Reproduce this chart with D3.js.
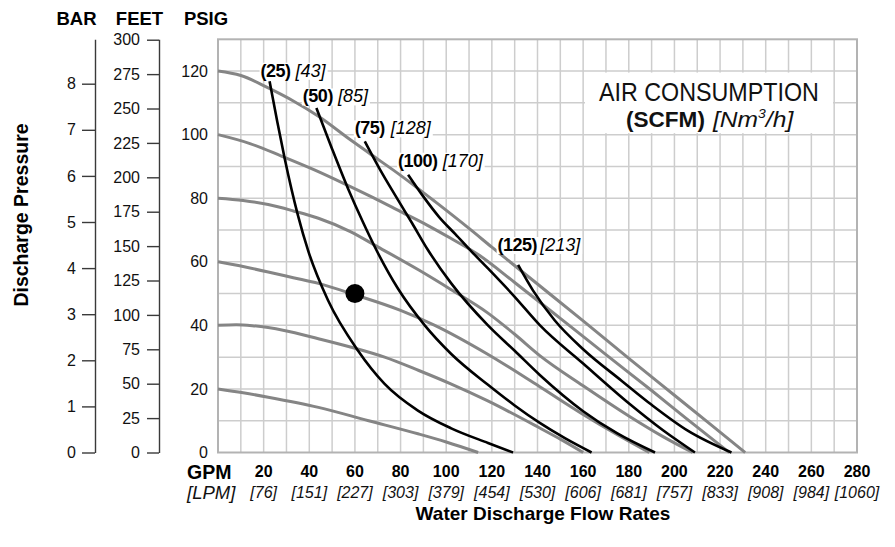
<!DOCTYPE html>
<html><head><meta charset="utf-8">
<script src="https://cdn.jsdelivr.net/npm/d3@7"></script>
<style>
html,body{margin:0;padding:0;background:#fff;}
svg{display:block;font-family:"Liberation Sans",Arial,Helvetica,sans-serif;}
</style></head><body>
<svg id="chart" width="895" height="547"></svg>
<script>
// ---------- data ----------
const gpmTicks = [20,40,60,80,100,120,140,160,180,200,220,240,260,280];
const lpmLabels = ["[76]","[151]","[227]","[303]","[379]","[454]","[530]","[606]","[681]","[757]","[833]","[908]","[984]","[1060]"];
const psiTicks = [0,20,40,60,80,100,120];
const barTicks = [0,1,2,3,4,5,6,7,8];
const feetTicks = [0,25,50,75,100,125,150,175,200,225,250,275,300];

// constant air-inlet pressure curves: [GPM, PSIG]
const pressure120 = [[0,120],[10,118.6],[22,114.7],[33,110.6],[44,105.8],[58,98.4],[66,94.3],[80,87.2],[95,79],[110,70.5],[120,64.6],[140,53],[160,41.4],[180,29.6],[200,18],[215,9.3],[231,0]];
const pressure100 = [[0,100],[14,97.2],[28,93.2],[42,89],[55,84.7],[68,80.2],[80,75.8],[92,71.4],[102,67.4],[114,62.3],[130,53.5],[150,42.2],[170,30.8],[190,19.5],[205,10.8],[224,0]];
const pressure80 = [[0,80],[11,79.3],[22,78],[33,76],[44,73.7],[58,69.5],[70,64.7],[88,57.4],[102,51.3],[118,44],[130,37.2],[141,30.5],[160,21],[180,11.5],[195,5],[208,0]];
const pressure60 = [[0,60],[11,58.5],[22,56.8],[33,55],[44,53.2],[60,49.6],[80,44.7],[95,40],[118,31],[141,20.7],[160,12],[175,5.6],[189,0]];
const pressure40 = [[0,40],[8,40.2],[15,39.9],[29,38.4],[44,35.8],[58,33.2],[73,30],[88,25.8],[102,21.6],[118,16.3],[141,7.7],[150,4.2],[160,0]];
const pressure20 = [[0,20],[11,18.8],[22,17.4],[44,14.2],[66,10],[88,5.8],[100,3.3],[114,0]];
const pressureCurves = [pressure120, pressure100, pressure80, pressure60, pressure40, pressure20];

// air consumption curves: [GPM, PSIG]
const air25 = [[22.6,116.8],[26,104],[29.2,92.6],[35,74.7],[39.5,63.5],[48.2,47.9],[61.3,32.1],[73,21.6],[87.6,13.2],[102.2,7.6],[118.3,3],[129.3,0]];
const air50 = [[43.1,108.4],[50,95.5],[57,83],[63.5,72.5],[69.4,63.7],[78.9,51.5],[90.6,40],[102.2,31],[118.3,21.3],[130,14.8],[141,9.3],[152,4.5],[163.7,0]];
const air75 = [[64.3,97.9],[71,89],[78,80.5],[85,72.2],[92,63.7],[102.2,53.2],[118.3,40],[130,32],[141,24.4],[160,13],[175,6],[191.5,0]];
const air100 = [[83.3,87.4],[90,80.5],[97,74],[104,68.7],[111,63.3],[118.3,57.9],[130,49],[141,40.1],[160,28],[180,15.5],[195,7],[209,0]];
const air125 = [[131.5,59],[138,51],[147.5,41.6],[160,32.5],[176.8,22.6],[190,15],[206,6.8],[225,0]];
const airCurves = [air25, air50, air75, air100, air125];
const airScfm = ["(25)","(50)","(75)","(100)","(125)"];
const airNm3 = ["[43]","[85]","[128]","[170]","[213]"];

const operatingPoint = [60, 50];

// ---------- drawing ----------
const svg = d3.select('#chart');
const FONT = '"Liberation Sans",Arial,Helvetica,sans-serif';
const x = d3.scaleLinear().domain([0,280]).range([218,857]);
const y = d3.scaleLinear().domain([0,130]).range([452.5,39.3]);
const PSI_PER_BAR = 14.5038, FT_PER_PSI = 2.31;
const yBar = d3.scaleLinear().domain([0,130/PSI_PER_BAR]).range(y.range());
const yFt = d3.scaleLinear().domain([0,130*FT_PER_PSI]).range(y.range());

// grid
const grid = svg.append('g');
grid.selectAll('line.v').data(d3.range(10,280,10)).join('line')
  .attr('x1',d=>x(d)).attr('x2',d=>x(d)).attr('y1',y(0)).attr('y2',y(130))
  .attr('stroke','#cdcdcd').attr('stroke-width',1.5);
grid.selectAll('line.h').data(d3.range(10,130,10)).join('line')
  .attr('y1',d=>y(d)).attr('y2',d=>y(d)).attr('x1',x(0)).attr('x2',x(280))
  .attr('stroke','#cdcdcd').attr('stroke-width',1.5);
svg.append('rect').attr('x',x(0)).attr('y',y(130)).attr('width',x(280)-x(0)).attr('height',y(0)-y(130))
  .attr('fill','none').attr('stroke','#b3b3b3').attr('stroke-width',2);

// title box
svg.append('rect').attr('x',585).attr('y',y(120)+1.5).attr('width',248).attr('height',y(100)-y(120)-3).attr('fill','#fff');

function fitText(sel, x0, yb, width){
  const w = sel.node().getBBox().width;
  sel.attr('transform',`translate(${x0},${yb}) scale(${width/w},1)`);
}
const t1 = svg.append('text').attr('x',0).attr('y',0).attr('font-size',26).attr('fill','#111').text('AIR CONSUMPTION');
fitText(t1, 599, 100.5, 220);
const t2 = svg.append('text').attr('x',0).attr('y',0).attr('font-size',23).attr('font-weight','bold').attr('fill','#111').text('(SCFM)');
fitText(t2, 626, 127, 79);
const t3 = svg.append('text').attr('x',0).attr('y',0).attr('font-size',23).attr('font-style','italic').attr('fill','#111');
t3.append('tspan').text('[Nm');
t3.append('tspan').attr('font-size',13).attr('dy',-9).text('3');
t3.append('tspan').attr('dy',9).text('/h]');
fitText(t3, 713, 127, 82);

// curves
const line = d3.line().x(d=>x(d[0])).y(d=>y(d[1])).curve(d3.curveMonotoneX);
svg.append('g').selectAll('path').data(pressureCurves).join('path')
  .attr('d',line).attr('fill','none').attr('stroke','#858585').attr('stroke-width',3);
svg.append('g').selectAll('path').data(airCurves).join('path')
  .attr('d',line).attr('fill','none').attr('stroke','#000').attr('stroke-width',2.6);

// curve labels (placed relative to each curve's upper end)
const labelShift = [[-9,-4.5],[-13.5,-5.5],[-10,-7],[-10,-8],[-20.5,-14]];
const labelGap = [5,5,6,5,3];
airCurves.forEach((c,i)=>{
  const g = svg.append('g');
  const bg = g.append('rect').attr('fill','#fff');
  const t = g.append('text').attr('x',x(c[0][0])+labelShift[i][0]).attr('y',y(c[0][1])+labelShift[i][1])
    .attr('font-size',18).attr('fill','#000');
  t.append('tspan').attr('font-weight','bold').attr('letter-spacing',-0.5).text(airScfm[i]);
  t.append('tspan').attr('font-style','italic').attr('dx',labelGap[i]).text(airNm3[i]);
  const b = t.node().getBBox();
  bg.attr('x',b.x-1).attr('y',b.y+2).attr('width',b.width+2).attr('height',b.height-3);
});

// operating point
svg.append('circle').attr('cx',x(operatingPoint[0])).attr('cy',y(operatingPoint[1])).attr('r',9.5).attr('fill','#000');

// left axes
function styleAxis(g){
  g.attr('font-family',FONT).attr('font-size',16);
  g.selectAll('path.domain').attr('stroke','#3a3a3a').attr('stroke-width',1.4);
  g.selectAll('.tick line').attr('stroke','#3a3a3a').attr('stroke-width',1.4);
  g.selectAll('.tick text').attr('fill','#111');
}
svg.append('g').attr('transform','translate(95,0)')
  .call(d3.axisLeft(yBar).tickValues(barTicks).tickSize(13).tickSizeOuter(0).tickPadding(6)).call(styleAxis);
svg.append('g').attr('transform','translate(159,0)')
  .call(d3.axisLeft(yFt).tickValues(feetTicks).tickSize(12).tickSizeOuter(0).tickPadding(7)).call(styleAxis);
const psiAxis = svg.append('g').attr('transform','translate(218,0)')
  .call(d3.axisLeft(y).tickValues(psiTicks).tickSize(0).tickPadding(10)).call(styleAxis);
psiAxis.select('path.domain').remove();

// headers
[['BAR',76.5],['FEET',139.5],['PSIG',206]].forEach(([s,cx])=>{
  svg.append('text').attr('x',cx).attr('y',25).attr('text-anchor','middle')
    .attr('font-size',18.5).attr('font-weight','bold').attr('fill','#000').text(s);
});
svg.append('text').attr('transform','translate(28,215) rotate(-90)').attr('text-anchor','middle')
  .attr('font-size',19.5).attr('font-weight','bold').attr('fill','#000').text('Discharge Pressure');

// bottom axis labels
svg.append('g').selectAll('text').data(gpmTicks).join('text')
  .attr('x',d=>x(d)).attr('y',477).attr('text-anchor','middle')
  .attr('font-size',16).attr('font-weight','bold').attr('fill','#000').text(d=>d);
svg.append('g').selectAll('text').data(gpmTicks).join('text')
  .attr('x',d=>x(d)).attr('y',497.5).attr('text-anchor','middle')
  .attr('font-size',16).attr('font-style','italic').attr('fill','#111').text((d,i)=>lpmLabels[i]);
svg.append('text').attr('x',187).attr('y',479).attr('font-size',19.5).attr('font-weight','bold').attr('fill','#000').text('GPM');
svg.append('text').attr('x',187).attr('y',498.5).attr('font-size',18.5).attr('font-style','italic').attr('fill','#111').text('[LPM]');
svg.append('text').attr('x',543).attr('y',519.5).attr('text-anchor','middle')
  .attr('font-size',19).attr('font-weight','bold').attr('fill','#000').text('Water Discharge Flow Rates');
</script>
</body></html>
